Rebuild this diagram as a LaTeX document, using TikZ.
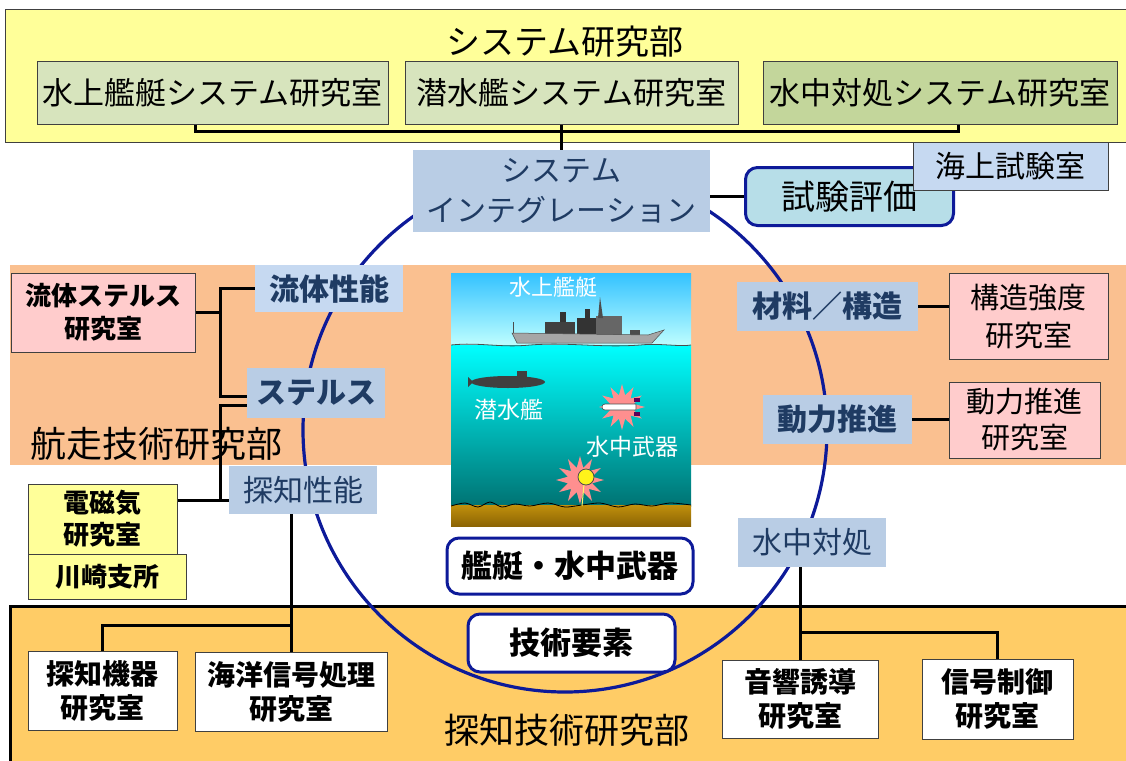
\documentclass[tikz,border=0pt]{standalone}
\usepackage{fontspec}
\setmainfont{Noto Sans CJK JP}
\usetikzlibrary{shapes.geometric}

\definecolor{deptyellow}{HTML}{FFFF99}
\definecolor{labgreen}{HTML}{D7E4BD}
\definecolor{labolive}{HTML}{C3D69B}
\definecolor{elemblue}{HTML}{B9CDE5}
\definecolor{paleblue}{HTML}{C6D9F1}
\definecolor{testcyan}{HTML}{B7DEE8}
\definecolor{ringblue}{HTML}{0D1A99}
\definecolor{elemtext}{HTML}{1F3B63}
\definecolor{navorange}{HTML}{FAC090}
\definecolor{detorange}{HTML}{FFCC66}
\definecolor{labpink}{HTML}{FFCCCC}
\definecolor{blastpink}{HTML}{FF8F8F}
\definecolor{seabed}{HTML}{C0900C}
\definecolor{seabeddark}{HTML}{8C6404}

\newcommand\fsz[2]{\fontsize{#1}{#2}\selectfont}

\begin{document}
\begin{tikzpicture}[x=1pt,y=-1pt,
    lab/.style={draw=black!75,line width=1pt,inner sep=0pt,align=center},
    elem/.style={fill=elemblue,inner sep=0pt,align=center,text=elemtext},
    pill/.style={draw=ringblue,line width=3pt,rounded corners=12pt,inner sep=0pt,align=center},
    conn/.style={line width=3pt,black},
    ring/.style={draw=ringblue,line width=3.2pt}]
  \useasboundingbox (0,0) rectangle (1126,760);

  % department bands
  \draw[fill=deptyellow,draw=black!75,line width=1pt] (5,10) rectangle (1132,142);
  \fill[navorange] (10,265) rectangle (1132,465);
  \fill[detorange] (10,606) rectangle (1132,765);
  \draw[line width=3pt] (10,765) -- (10,606) -- (1132,606);

  \node[font=\fsz{34}{40}] (sysdept) at (565,42) {システム研究部};
  \node[font=\fsz{36}{40}] (navdept) at (156,444) {航走技術研究部};
  \node[font=\fsz{35}{40}] (detdept) at (567,730) {探知技術研究部};

  % the circle of technical elements
  \draw[ring] (565,430) circle[radius=262];

  % scene: ship, submarine and weapons
  \begin{scope}
    \clip (451,273) rectangle (691,526);
    \shade[top color=cyan!70!blue!80,bottom color=cyan!25] (451,273) rectangle (691,346);
    \shade[top color=cyan,bottom color=cyan!45!black] (451,345) rectangle (691,506);
    \shade[top color=seabed,bottom color=seabeddark] (451,505) rectangle (691,526);
    \draw[black!70,line width=0.8pt] (451,345) .. controls (480,342) and (500,348) .. (530,345)
      .. controls (570,342) and (600,348) .. (640,345) .. controls (660,343) and (680,347) .. (691,345);
    \draw[black,line width=0.8pt] plot[smooth] coordinates {(451,506) (465,503) (478,507) (490,502)
      (502,507) (515,504) (530,506) (548,503) (565,507) (582,505) (600,503) (618,507) (635,504)
      (652,506) (670,503) (691,505)};
    % surface ship
    \fill[black!75] (545,337) rectangle (575,322);
    \fill[black!80] (577,337) rectangle (596,318);
    \fill[black!60] (596,337) rectangle (622,316);
    \fill[black!70] (598,318) -- (600,297) -- (603,318) -- cycle;
    \fill[black!80] (560,322) rectangle (566,312);
    \fill[black!80] (585,318) rectangle (590,309);
    \fill[black!70] (630,337) rectangle (640,330);
    \fill[gray!70,draw=black!70,line width=0.5pt] (512,333) -- (517,343) -- (652,343)
      -- (664,330) -- (648,335) -- cycle;
    \draw[black!70,line width=0.8pt] (513,333) -- (513,322);
    % submarine
    \fill[black!75] (508,382) ellipse[x radius=37,y radius=6];
    \fill[black!75] (517,377) rectangle (527,371);
    \fill[black!75] (468,377) -- (473,382) -- (468,387) -- cycle;
    % torpedo
    \node[star,star points=12,star point ratio=1.9,fill=blastpink,minimum size=46pt,inner sep=0pt]
      (blast1) at (622,407) {};
    \draw[fill=white,draw=black!70,line width=0.6pt] (605,404) -- (636,404) -- (636,410) -- (605,410)
      .. controls (601,410) and (601,404) .. (605,404);
    \fill[violet!70!black] (634,398) rectangle (640,402);
    \fill[violet!70!black] (634,412) rectangle (640,416);
    % mine
    \node[star,star points=12,star point ratio=1.9,fill=blastpink,minimum size=48pt,inner sep=0pt]
      (blast2) at (580,480) {};
    \draw[yellow!60!white,line width=1pt] (584,484) -- (582,506);
    \draw[fill=yellow!90!white,draw=black!70,line width=0.8pt] (586,477) circle[radius=8];
    \node[text=white,font=\fsz{22}{26}] (shiplbl) at (553,287) {水上艦艇};
    \node[text=white,font=\fsz{23}{26}] (sublbl) at (509,410) {潜水艦};
    \node[text=white,font=\fsz{23}{26}] (weaplbl) at (632,447) {水中武器};
  \end{scope}

  % system department laboratories
  \node[lab,fill=labgreen,minimum width=351pt,minimum height=62pt,font=\fsz{31}{36}] (surflab)
    at (212.5,93) {水上艦艇システム研究室};
  \node[lab,fill=labgreen,minimum width=333pt,minimum height=62pt,font=\fsz{31}{36}] (sublab)
    at (571.5,93) {潜水艦システム研究室};
  \node[lab,fill=labolive,minimum width=354pt,minimum height=62pt,font=\fsz{31}{36}] (uwlab)
    at (940,93) {水中対処システム研究室};

  \node[elem,minimum width=297pt,minimum height=82pt,font=\fsz{30}{40}] (sysint) at (561.5,191)
    {システム\\インテグレーション};
  \node[pill,fill=testcyan,minimum width=208pt,minimum height=58pt,font=\fsz{34}{40}] (testeval)
    at (849.5,196.5) {試験評価};
  \node[lab,fill=paleblue,minimum width=195pt,minimum height=48pt,font=\fsz{30}{36}] (seatest)
    at (1010.5,166) {海上試験室};

  \coordinate (busl) at (195,131);
  \coordinate (busr) at (958,131);
  \draw[conn] (busl |- surflab.south) -- (busl) -- (busr) -- (busr |- uwlab.south);
  \draw[conn] (sublab.south -| sysint.north) -- (sysint.north);
  \draw[conn] (sysint.east |- testeval.west) -- (testeval.west);

  % navigation technology side
  \node[elem,fill=paleblue,minimum width=148pt,minimum height=47pt,font=\fsz{30}{36}\bfseries]
    (fluid) at (329,288.5) {流体性能};
  \node[elem,minimum width=138pt,minimum height=50pt,font=\fsz{30}{36}\bfseries]
    (stealth) at (316,393) {ステルス};
  \node[elem,minimum width=148pt,minimum height=48pt,font=\fsz{30}{36}]
    (detect) at (303,490) {探知性能};
  \node[lab,fill=labpink,minimum width=184pt,minimum height=79pt,font=\fsz{26}{33}\bfseries]
    (fluidlab) at (103,312.5) {流体ステルス\\研究室};
  \node[lab,fill=deptyellow,minimum width=149pt,minimum height=70pt,font=\fsz{26}{32}\bfseries]
    (emlab) at (102.5,519) {電磁気\\研究室};
  \node[lab,fill=deptyellow,minimum width=158pt,minimum height=45pt,font=\fsz{26}{32}\bfseries]
    (kawasaki) at (107,576.5) {川崎支所};

  \node[elem,minimum width=181pt,minimum height=49pt,font=\fsz{30}{36}\bfseries]
    (material) at (827.5,306.5) {材料／構造};
  \node[elem,minimum width=149pt,minimum height=49pt,font=\fsz{30}{36}\bfseries]
    (power) at (837.5,419.5) {動力推進};
  \node[elem,minimum width=148pt,minimum height=49pt,font=\fsz{30}{36}]
    (counter) at (812,542.5) {水中対処};
  \node[lab,fill=labpink,minimum width=159pt,minimum height=86pt,font=\fsz{29}{38}]
    (strlab) at (1028.5,316) {構造強度\\研究室};
  \node[lab,fill=labpink,minimum width=151pt,minimum height=76pt,font=\fsz{29}{36}]
    (powlab) at (1024.5,420) {動力推進\\研究室};

  \coordinate (jl) at (220,0);
  \draw[conn] (fluidlab.east) -- (fluidlab.east -| jl);
  \draw[conn] (fluid.west) -| ([yshift=-3pt]jl |- stealth.west) -- ([yshift=-3pt]stealth.west);
  \draw[conn] ([yshift=-12pt]stealth.west) -| ([yshift=-10pt]jl |- detect.west);
  \draw[conn] ([yshift=-10pt]emlab.east |- detect.west) -- ([yshift=-10pt]detect.west);
  \draw[conn] (material.east) -- (material.east -| strlab.west);
  \draw[conn] (power.east) -- (power.east -| powlab.west);

  % detection technology side
  \node[pill,fill=white,minimum width=246pt,minimum height=56pt,font=\fsz{31}{36}\bfseries]
    (vessels) at (570,566) {艦艇・水中武器};
  \node[pill,fill=white,minimum width=207pt,minimum height=58pt,font=\fsz{31}{36}\bfseries]
    (techelem) at (571.5,643) {技術要素};
  \node[lab,fill=white,minimum width=149pt,minimum height=79pt,font=\fsz{28}{34}\bfseries]
    (detector) at (102.5,690.5) {探知機器\\研究室};
  \node[lab,fill=white,minimum width=192pt,minimum height=79pt,font=\fsz{28}{34}\bfseries]
    (seaproc) at (291,691.5) {海洋信号処理\\研究室};
  \node[lab,fill=white,minimum width=156pt,minimum height=78pt,font=\fsz{28}{34}\bfseries]
    (acoustic) at (800,699) {音響誘導\\研究室};
  \node[lab,fill=white,minimum width=151pt,minimum height=80pt,font=\fsz{28}{34}\bfseries]
    (sigctl) at (997.5,699) {信号制御\\研究室};

  \coordinate (bl) at (0,625);
  \coordinate (br) at (0,632);
  \draw[conn] (detect.south -| seaproc.north) -- (seaproc.north);
  \draw[conn] (bl -| seaproc.north) -| (detector.north);
  \draw[conn] (counter.south -| acoustic.north) -- (acoustic.north);
  \draw[conn] (br -| acoustic.north) -| (sigctl.north);
\end{tikzpicture}
\end{document}
